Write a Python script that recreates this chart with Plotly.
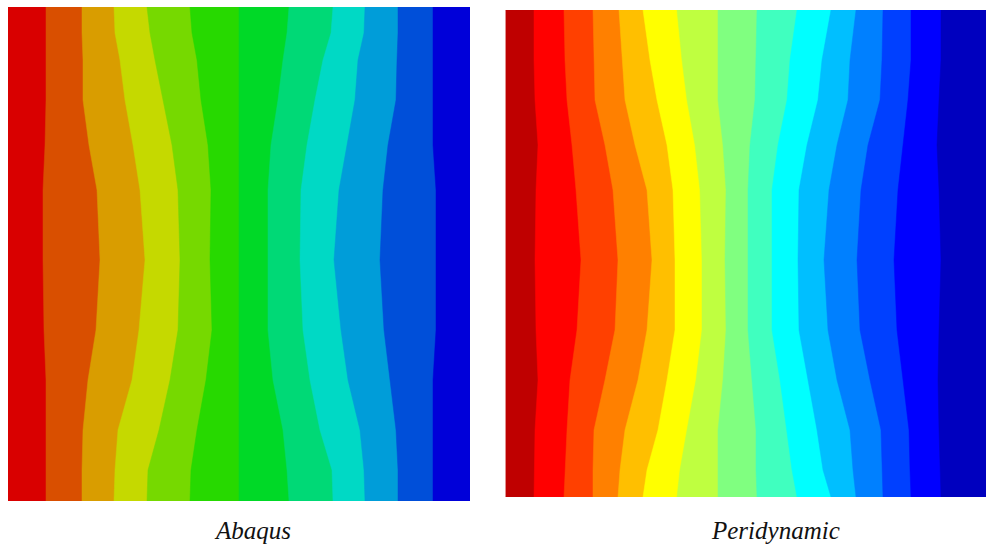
import plotly.graph_objects as go

W, H = 986, 545

# ---------------- Data ----------------
# y sample levels (pixel rows) and band boundary x-positions for each panel
abaqus_y = [7, 33, 60, 100, 145, 190, 260, 330, 380, 430, 470, 501]
abaqus_bounds = [
    [46, 82, 114, 147, 190, 239, 289, 333, 365, 398, 433],
    [46, 82, 115, 150, 192, 239, 287, 331, 364, 398, 433],
    [46, 83, 120, 155, 197, 239, 283, 323, 358, 397, 433],
    [46, 83, 125, 163, 201, 239, 278, 315, 355, 396, 433],
    [45, 89, 133, 172, 208, 239, 271, 307, 347, 388, 433],
    [43, 97, 140, 178, 211, 239, 268, 301, 339, 383, 436],
    [43, 100, 145, 180, 210, 239, 268, 300, 334, 380, 436],
    [44, 96, 139, 178, 212, 239, 268, 303, 341, 384, 436],
    [46, 88, 132, 170, 206, 239, 273, 310, 348, 390, 433],
    [46, 83, 118, 159, 197, 239, 283, 320, 360, 396, 433],
    [46, 82, 115, 148, 191, 239, 287, 332, 364, 398, 433],
    [46, 82, 114, 147, 190, 239, 289, 333, 365, 398, 433],
]
abaqus_colors = ["#d90000", "#d94f00", "#d99d00", "#c5d900", "#76d900", "#27d900",
                 "#00d927", "#00d976", "#00d9c5", "#009dd9", "#004fd9", "#0000d9"]

peri_y = [10, 60, 100, 145, 190, 260, 330, 380, 430, 470, 497]
peri_bounds = [
    [534, 564, 593, 619, 643, 677, 718, 757, 797, 831, 856, 883, 911, 941],
    [534, 565, 594, 622, 650, 682, 718, 756, 790, 822, 850, 882, 911, 941],
    [535, 567, 595, 625, 657, 687, 718, 755, 787, 818, 848, 880, 908, 939],
    [538, 572, 605, 635, 667, 695, 723, 750, 778, 807, 837, 868, 903, 937],
    [536, 576, 613, 647, 673, 700, 726, 748, 772, 799, 829, 861, 898, 939],
    [535, 581, 618, 652, 675, 702, 725, 748, 772, 798, 824, 857, 894, 941],
    [536, 577, 615, 647, 675, 702, 726, 748, 772, 799, 828, 860, 897, 939],
    [538, 570, 605, 638, 667, 696, 723, 752, 780, 808, 837, 870, 903, 938],
    [535, 567, 594, 625, 658, 687, 718, 756, 787, 817, 850, 881, 909, 939],
    [534, 565, 593, 620, 647, 680, 718, 756, 792, 823, 853, 882, 910, 940],
    [534, 564, 593, 618, 643, 677, 718, 757, 797, 831, 856, 883, 911, 941],
]
peri_colors = ["#bf0000", "#ff0000", "#ff4000", "#ff8000", "#ffbf00", "#ffff00",
               "#bfff40", "#80ff80", "#40ffbf", "#00ffff", "#00bfff", "#0080ff",
               "#0040ff", "#0000ff", "#0000bf"]

titles = ["Abaqus", "Peridynamic"]

# ---------------- Layout geometry ----------------
panels = [
    dict(x0=8, x1=470, y0=7, y1=501, ys=abaqus_y, bounds=abaqus_bounds,
         colors=abaqus_colors, tx=252),
    dict(x0=505.5, x1=986, y0=10, y1=497, ys=peri_y, bounds=peri_bounds,
         colors=peri_colors, tx=775),
]

fig = go.Figure()
layout = dict(width=W, height=H, margin=dict(l=0, r=0, t=0, b=0),
              paper_bgcolor="white", plot_bgcolor="white", showlegend=False)
annotations = []

for p_i, p in enumerate(panels):
    xa = "x" if p_i == 0 else "x2"
    ya = "y" if p_i == 0 else "y2"
    ys = p["ys"]
    for band, col in enumerate(p["colors"]):
        if band == 0:
            left = [p["x0"]] * len(ys)
        else:
            left = [row[band - 1] for row in p["bounds"]]
        right = [p["x1"]] * len(ys)
        px = left + right[::-1] + [left[0]]
        py = ys + ys[::-1] + [ys[0]]
        fig.add_trace(go.Scatter(x=px, y=py, fill="toself", fillcolor=col,
                                 mode="lines", line=dict(color=col, width=0.5),
                                 hoverinfo="skip", xaxis=xa, yaxis=ya))
    key = "" if p_i == 0 else "2"
    layout["xaxis" + key] = dict(range=[p["x0"], p["x1"]],
                                 domain=[p["x0"] / W, p["x1"] / W],
                                 visible=False, fixedrange=True)
    layout["yaxis" + key] = dict(range=[p["y1"], p["y0"]],
                                 domain=[(H - p["y1"]) / H, (H - p["y0"]) / H],
                                 visible=False, fixedrange=True)
    annotations.append(dict(text=titles[p_i], x=p["tx"] / W, y=(H - 530) / H,
                            xref="paper", yref="paper", showarrow=False,
                            xanchor="center", yanchor="middle",
                            font=dict(family="Liberation Serif", size=25,
                                      color="#111111", style="italic")))

layout["annotations"] = annotations
fig.update_layout(**layout)
fig.write_html("out.html",
               config={"displayModeBar": False},
               post_script="document.body.style.margin='0';"
                           "document.body.style.overflow='hidden';")
